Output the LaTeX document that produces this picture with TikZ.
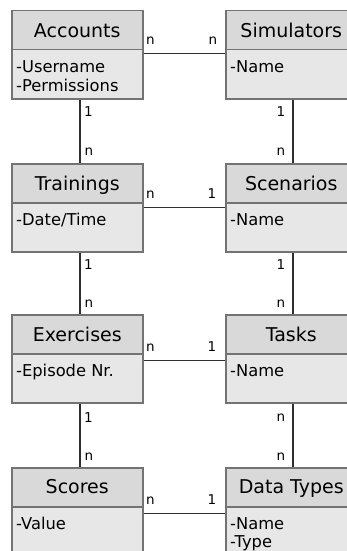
\documentclass[tikz,border=0pt]{standalone}
\usepackage{fontspec}
\setmainfont{DejaVu Sans}
\definecolor{bordergray}{HTML}{737373}
\definecolor{headfill}{HTML}{D9D9D9}
\definecolor{bodyfill}{HTML}{E7E7E7}
\definecolor{linedark}{HTML}{2E2E2E}
\tikzset{
  entbox/.style={draw=bordergray, line width=1.5pt, fill=bodyfill, minimum width=131pt, minimum height=88pt, inner sep=0pt, anchor=north west},
  enthead/.style={draw=bordergray, line width=1.5pt, fill=headfill, minimum width=131pt, minimum height=39pt, inner sep=0pt, anchor=north west},
  headtxt/.style={anchor=base, inner sep=0pt, font=\fontsize{19}{22}\selectfont, text=black},
  attr/.style={anchor=base west, inner sep=0pt, font=\fontsize{16.3}{18}\selectfont, text=black},
  conn/.style={draw=linedark, line width=1.6pt},
  card/.style={inner sep=0pt, font=\fontsize{13.5}{15}\selectfont, text=black}
}
\begin{document}
\begin{tikzpicture}[x=1pt,y=-1pt]
\useasboundingbox (0,0) rectangle (347,551);
\clip (0,0) rectangle (347,551);
% boxes
\node[entbox] (acc) at (11,10) {};
\node[enthead] (accH) at (11,10) {};
\node[entbox] (sim) at (225,10) {};
\node[enthead] (simH) at (225,10) {};
\node[entbox] (trn) at (11,163) {};
\node[enthead] (trnH) at (11,163) {};
\node[entbox] (scn) at (225,163) {};
\node[enthead] (scnH) at (225,163) {};
\node[entbox] (exe) at (11,314) {};
\node[enthead] (exeH) at (11,314) {};
\node[entbox] (tsk) at (225,314) {};
\node[enthead] (tskH) at (225,314) {};
\node[entbox] (sco) at (11,467) {};
\node[enthead] (scoH) at (11,467) {};
\node[entbox] (dat) at (225,467) {};
\node[enthead] (datH) at (225,467) {};
% titles
\node[headtxt] (accT) at ([yshift=-27.7pt]accH.north) {Accounts};
\node[headtxt] (simT) at ([yshift=-27.7pt]simH.north) {Simulators};
\node[headtxt] (trnT) at ([yshift=-27.3pt]trnH.north) {Trainings};
\node[headtxt] (scnT) at ([yshift=-27.3pt]scnH.north) {Scenarios};
\node[headtxt] (exeT) at ([yshift=-27.3pt]exeH.north) {Exercises};
\node[headtxt] (tskT) at ([yshift=-27.3pt]tskH.north) {Tasks};
\node[headtxt] (scoT) at ([yshift=-26.5pt]scoH.north) {Scores};
\node[headtxt] (datT) at ([yshift=-26.5pt]datH.north) {Data Types};
% attributes
\node[attr] (a1) at ([xshift=5pt,yshift=-63pt]acc.north west) {-Username};
\node[attr] (a2) at ([xshift=5pt,yshift=-81pt]acc.north west) {-Permissions};
\node[attr] (s1) at ([xshift=5pt,yshift=-63pt]sim.north west) {-Name};
\node[attr] (t1) at ([xshift=5pt,yshift=-62pt]trn.north west) {-Date/Time};
\node[attr] (c1) at ([xshift=5pt,yshift=-62pt]scn.north west) {-Name};
\node[attr] (e1) at ([xshift=5pt,yshift=-62pt]exe.north west) {-Episode Nr.};
\node[attr] (k1) at ([xshift=5pt,yshift=-62pt]tsk.north west) {-Name};
\node[attr] (o1) at ([xshift=5pt,yshift=-62pt]sco.north west) {-Value};
\node[attr] (d1) at ([xshift=5pt,yshift=-62pt]dat.north west) {-Name};
\node[attr] (d2) at ([xshift=5pt,yshift=-80pt]dat.north west) {-Type};
% horizontal connectors
\draw[conn] ([yshift=-3pt]accH.south east) -- ([yshift=-3pt]simH.south west);
\draw[conn] ([yshift=-4pt]trnH.south east) -- ([yshift=-4pt]scnH.south west);
\draw[conn] ([yshift=-6pt]exeH.south east) -- ([yshift=-6pt]tskH.south west);
\draw[conn] ([yshift=-6pt]scoH.south east) -- ([yshift=-6pt]datH.south west);
% vertical connectors
\draw[conn] ([xshift=2.5pt]acc.south) -- ([xshift=2.5pt]trn.north);
\draw[conn] ([xshift=2.5pt]trn.south) -- ([xshift=2.5pt]exe.north);
\draw[conn] ([xshift=2.5pt]exe.south) -- ([xshift=2.5pt]sco.north);
\draw[conn] ([xshift=1.5pt]sim.south) -- ([xshift=1.5pt]scn.north);
\draw[conn] ([xshift=1.5pt]scn.south) -- ([xshift=1.5pt]tsk.north);
\draw[conn] ([xshift=1.5pt]tsk.south) -- ([xshift=1.5pt]dat.north);
% cardinalities horizontal
\node[card] at (150.5,41) {n};
\node[card] at (213,41) {n};
\node[card] at (150.5,195) {n};
\node[card] at (212,194) {1};
\node[card] at (150.5,348) {n};
\node[card] at (212,347) {1};
\node[card] at (150.5,501) {n};
\node[card] at (212,500) {1};
% cardinalities vertical left
\node[card] at (88.5,112) {1};
\node[card] at (89,151.5) {n};
\node[card] at (88.5,265) {1};
\node[card] at (89,304) {n};
\node[card] at (88.5,418) {1};
\node[card] at (89,457) {n};
% cardinalities vertical right
\node[card] at (281,112) {1};
\node[card] at (281,151.5) {n};
\node[card] at (281,265) {1};
\node[card] at (281,304) {n};
\node[card] at (281,418) {n};
\node[card] at (281,457) {n};
\end{tikzpicture}
\end{document}
